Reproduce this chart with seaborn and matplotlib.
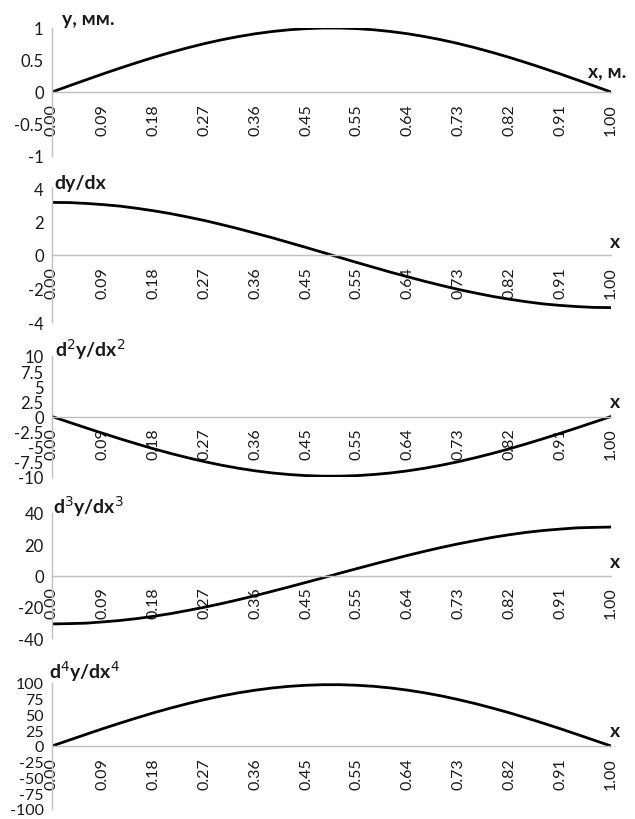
import numpy as np
import pandas as pd
import matplotlib
matplotlib.use("Agg")
import matplotlib.pyplot as plt
import seaborn as sns

sns.set_style("white")
plt.rcParams['font.family'] = ['Lato', 'DejaVu Sans']

x_labels = ["0.00", "0.09", "0.18", "0.27", "0.36", "0.45",
            "0.55", "0.64", "0.73", "0.82", "0.91", "1.00"]

y0 = [0, 0.095, 0.189, 0.282, 0.372, 0.458, 0.541, 0.618, 0.690, 0.756, 0.815, 0.866,
      0.910, 0.945, 0.972, 0.990, 0.999, 0.999, 0.990, 0.972, 0.945, 0.910, 0.866,
      0.815, 0.756, 0.690, 0.618, 0.541, 0.458, 0.372, 0.282, 0.189, 0.095, 0]
y1 = [3.14, 3.13, 3.08, 3.01, 2.92, 2.79, 2.64, 2.47, 2.27, 2.06, 1.82, 1.57, 1.30,
      1.03, 0.74, 0.45, 0.15, -0.15, -0.45, -0.74, -1.03, -1.30, -1.57, -1.82, -2.06,
      -2.27, -2.47, -2.64, -2.79, -2.92, -3.01, -3.08, -3.13, -3.14]
y2 = [0, -0.94, -1.87, -2.78, -3.67, -4.52, -5.34, -6.10, -6.81, -7.46, -8.04, -8.55,
      -8.98, -9.33, -9.59, -9.77, -9.86, -9.86, -9.77, -9.59, -9.33, -8.98, -8.55,
      -8.04, -7.46, -6.81, -6.10, -5.34, -4.52, -3.67, -2.78, -1.87, -0.94, 0]
y3 = [-31.0, -30.8, -30.5, -29.7, -28.8, -27.6, -26.1, -24.4, -22.4, -20.3, -18.0,
      -15.5, -12.9, -10.1, -7.3, -4.4, -1.5, 1.5, 4.4, 7.3, 10.1, 12.9, 15.5, 18.0,
      20.3, 22.4, 24.4, 26.1, 27.6, 28.8, 29.7, 30.5, 30.8, 31.0]
y4 = [0, 9.2, 18.4, 27.5, 36.2, 44.6, 52.7, 60.2, 67.2, 73.6, 79.4, 84.4, 88.6, 92.1,
      94.7, 96.4, 97.3, 97.3, 96.4, 94.7, 92.1, 88.6, 84.4, 79.4, 73.6, 67.2, 60.2,
      52.7, 44.6, 36.2, 27.5, 18.4, 9.2, 0]

series = [y0, y1, y2, y3, y4]
titles = ["y, мм.", "dy/dx", "d$^2$y/dx$^2$", "d$^3$y/dx$^3$", "d$^4$y/dx$^4$"]
xnames = ["x, м.", "x", "x", "x", "x"]
yticks = [[-1, -0.5, 0, 0.5, 1], [-4, -2, 0, 2, 4],
          [-10, -7.5, -5, -2.5, 0, 2.5, 5, 7.5, 10],
          [-40, -20, 0, 20, 40],
          [-100, -75, -50, -25, 0, 25, 50, 75, 100]]
yticklabels = [["-1", "-0.5", "0", "0.5", "1"], ["-4", "-2", "0", "2", "4"],
               ["-10", "-7.5", "-5", "-2.5", "0", "2.5", "5", "7.5", "10"],
               ["-40", "-20", "0", "20", "40"],
               ["-100", "-75", "-50", "-25", "0", "25", "50", "75", "100"]]

W, H = 635, 820
panels_px = [(29, 157), (189, 323), (357, 478), (514, 639), (684, 810)]
title_px = [(62, 20), (54, 183), (55, 350), (53, 507), (49, 672)]
xname_px = [(588, 72), (610, 243), (610, 403), (610, 562), (610, 732)]
x0px, x1px = 52, 611

fig = plt.figure(figsize=(W / 100, H / 100), dpi=100)
axis_col = "#bfbfbf"
txt_col = "#1a1a1a"

n = len(y0)
pos = np.arange(n)
for k, (top, bot) in enumerate(panels_px):
    ax = fig.add_axes([x0px / W, 1 - bot / H, (x1px - x0px) / W, (bot - top) / H])
    df = pd.DataFrame({"x": pos, "y": series[k]})
    sns.lineplot(data=df, x="x", y="y", ax=ax, color="black", linewidth=2.0)
    ymin, ymax = yticks[k][0], yticks[k][-1]
    ax.set_ylim(ymin, ymax)
    ax.set_xlim(0, n - 1)
    ax.set_xlabel("")
    ax.set_ylabel("")
    for s in ["top", "right"]:
        ax.spines[s].set_visible(False)
    ax.spines["bottom"].set_position(("data", 0))
    for s in ["left", "bottom"]:
        ax.spines[s].set_color(axis_col)
        ax.spines[s].set_linewidth(1.0)
    ax.set_yticks(yticks[k])
    ax.set_yticklabels(yticklabels[k], fontsize=11.5 if k == 4 else 12, color=txt_col)
    ax.set_xticks(pos[::3])
    ax.set_xticklabels(x_labels, rotation=90, fontsize=11.5, color=txt_col)
    ax.set_xticks(pos, minor=True)
    ax.tick_params(axis="x", which="both", direction="out", length=4, color=axis_col,
                   width=1.0, pad=4)
    ax.tick_params(axis="y", direction="out", length=4, color=axis_col, width=1.0, pad=2)
    ax.set_facecolor("none")
    tx, ty = title_px[k]
    fig.text(tx / W, 1 - ty / H, titles[k], fontsize=14, fontweight="bold",
             ha="left", va="center", color=txt_col)
    nx, ny = xname_px[k]
    fig.text(nx / W, 1 - ny / H, xnames[k], fontsize=14, fontweight="bold",
             ha="left", va="center", color=txt_col)

fig.savefig("out.png", dpi=100, facecolor="white")
